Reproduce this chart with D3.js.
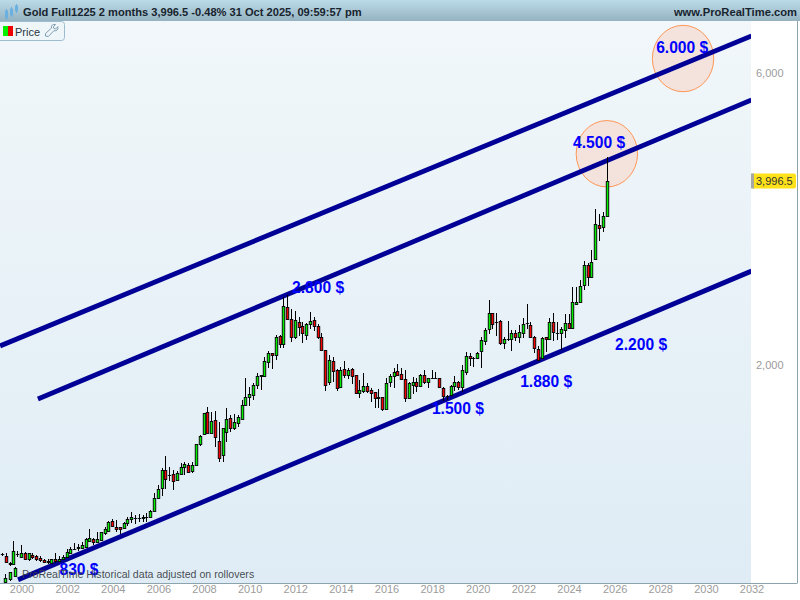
<!DOCTYPE html>
<html><head><meta charset="utf-8">
<script src="https://cdn.jsdelivr.net/npm/d3@7"></script>
<style>html,body{margin:0;padding:0;background:#fff;overflow:hidden}svg{display:block;font-family:"Liberation Sans",Arial,sans-serif}</style>
</head><body><div id="chart"></div>
<script>
// Two-month candles, first period March 1999, prices
const firstPeriod = 1999 + 2 / 12;
const periodLength = 2 / 12;
const opens = [980,974,950,945,981,971,984,962,978,974,968,960,954,950,962,957,962,972,987,1001,1005,1003,1009,1032,1038,1028,1035,1062,1072,1110,1088,1085,1084,1102,1120,1125,1124,1123,1129,1130,1156,1214,1257,1345,1321,1325,1298,1326,1361,1371,1342,1372,1484,1541,1674,1550,1624,1500,1424,1556,1636,1576,1610,1630,1718,1771,1788,1853,1921,1919,2025,2090,2072,2230,2162,2484,2374,2222,2350,2312,2242,2335,2368,2312,2220,2114,1873,2030,1963,1843,1968,1928,1968,1924,1802,1816,1848,1818,1804,1768,1771,1692,1874,1921,1952,1931,1895,1768,1855,1878,1848,1924,1878,1906,1906,1902,1832,1779,1786,1850,1874,1839,1944,2066,2051,2051,2110,2186,2287,2429,2346,2360,2173,2204,2208,2252,2220,2256,2340,2321,2224,2122,2052,2218,2202,2346,2258,2255,2281,2340,2300,2516,2534,2698,2909,2786,2975,3381,3366,3509];
const highs = [986,985,952,1031,993,1016,990,986,984,978,974,965,962,965,984,974,978,1000,1009,1022,1020,1028,1042,1079,1042,1068,1068,1086,1112,1120,1116,1088,1106,1127,1149,1137,1141,1137,1145,1159,1236,1274,1357,1420,1362,1347,1342,1383,1389,1383,1389,1487,1537,1670,1707,1678,1682,1614,1578,1701,1657,1662,1657,1751,1904,1841,1867,1941,1926,2059,2111,2095,2239,2239,2585,2602,2466,2450,2391,2354,2344,2441,2398,2333,2258,2116,2077,2059,1968,1985,2028,1978,1975,1926,1890,1943,1867,1831,1808,1827,1775,1902,1931,1975,2005,1975,1963,1878,1909,1902,1931,1963,1907,1963,1950,1907,1839,1786,1855,1919,1883,1998,2102,2095,2064,2100,2219,2296,2553,2434,2429,2365,2222,2359,2281,2281,2324,2385,2515,2354,2230,2144,2218,2224,2385,2434,2354,2310,2422,2422,2678,2683,2753,2957,2937,3081,3595,3523,3557,4371];
const lows = [973,948,938,942,971,967,960,957,965,957,954,948,946,948,948,951,960,968,984,997,994,1000,1003,1031,1016,1025,1032,1055,1068,1086,1068,1059,1078,1091,1102,1099,1109,1109,1106,1127,1150,1207,1222,1255,1290,1250,1297,1322,1322,1331,1332,1370,1471,1537,1546,1546,1470,1387,1390,1494,1552,1566,1584,1630,1713,1713,1753,1827,1820,1909,1978,1970,2038,2128,2134,2370,2180,2203,2226,2174,2197,2290,2272,2203,2108,1816,1855,1878,1816,1836,1902,1897,1862,1793,1764,1802,1802,1738,1702,1698,1684,1692,1839,1832,1919,1890,1742,1764,1793,1809,1843,1862,1832,1897,1895,1832,1746,1753,1779,1816,1820,1809,1926,1992,1983,2043,1975,2156,2247,2292,2226,2156,2124,2188,2111,2191,2172,2212,2287,2210,2095,2038,2044,2103,2197,2191,2197,2116,2215,2287,2287,2506,2527,2651,2694,2775,2968,3192,3299,3500];
const closes = [982,951,944,992,982,985,965,985,971,962,960,954,955,962,955,965,969,988,1000,1002,1006,1016,1039,1042,1028,1038,1068,1079,1106,1091,1078,1078,1102,1120,1127,1126,1125,1130,1130,1156,1212,1253,1347,1304,1323,1294,1330,1361,1378,1338,1373,1486,1531,1667,1550,1618,1524,1409,1576,1631,1578,1612,1642,1718,1771,1791,1855,1919,1922,2030,2095,2072,2222,2162,2494,2378,2222,2365,2309,2253,2335,2357,2315,2222,2114,1857,2035,1957,1836,1961,1928,1963,1919,1802,1818,1848,1816,1800,1764,1769,1692,1867,1919,1945,1928,1894,1768,1867,1878,1848,1924,1874,1902,1907,1907,1839,1779,1780,1846,1874,1839,1961,2066,2051,2052,2092,2194,2284,2434,2335,2347,2173,2204,2205,2252,2220,2260,2330,2341,2224,2130,2038,2210,2202,2346,2260,2259,2287,2340,2300,2530,2538,2688,2909,2786,2950,3394,3351,3509,3996.5];

// The three stray candles under the start of the series
const strayTimes = [1999.29, 1999.51, 1999.73];
const strayOpens = [884, 893, 905];
const strayHighs = [911, 915, 935];
const strayLows = [879, 888, 902];
const strayCloses = [898, 918, 932];

// Channel lines: [year, price] end points
const lowerChannel = [[1999.85, 891], [2032, 2847]];
const middleChannel = [[2000.72, 1759], [2032, 5420]];
const upperChannel = [[1999.06, 2148], [2032, 6896]];

// Target circles
const targetYears = [2025.66, 2029];
const targetPrices = [4427, 6336];

// Annotations
const noteTexts = ["6.000 $", "4.500 $", "2.800 $", "2.200 $", "1.880 $", "1.500 $", "830 $"];
const noteYears = [2028.96, 2025.32, 2013, 2027.16, 2023, 2019.13, 2002.52];
const notePrices = [6616, 4628, 2682, 2164, 1883, 1701, 928];

// Axes
const yearTicks = [2000,2002,2004,2006,2008,2010,2012,2014,2016,2018,2020,2022,2024,2026,2028,2030,2032];
const priceTicks = [2000, 6000];
const lastPrice = 3996.5;
const titleText = "Gold Full1225 2 months 3,996.5 -0.48% 31 Oct 2025, 09:59:57 pm";

const W = 800, H = 600, plotRight = 751, plotTop = 21, plotBottom = 583;
const x = d3.scaleLinear().domain([2000, 2032]).range([21.5, 751.5]);
const y = d3.scaleLog().domain([880, 7297]).range([plotBottom, plotTop]);

const svg = d3.select("#chart").append("svg").attr("width", W).attr("height", H);
const defs = svg.append("defs");
const bg = defs.append("linearGradient").attr("id", "bg").attr("x1", 0).attr("y1", 0).attr("x2", 0).attr("y2", 1);
bg.append("stop").attr("offset", 0).attr("stop-color", "#f1f7fa");
bg.append("stop").attr("offset", 1).attr("stop-color", "#dfecf5");
const head = defs.append("linearGradient").attr("id", "head").attr("x1", 0).attr("y1", 0).attr("x2", 0).attr("y2", 1);
head.append("stop").attr("offset", 0).attr("stop-color", "#bcdbe8");
head.append("stop").attr("offset", 1).attr("stop-color", "#95b2c1");
defs.append("clipPath").attr("id", "plot").append("rect").attr("x", 0).attr("y", plotTop).attr("width", plotRight).attr("height", plotBottom - plotTop);

svg.append("rect").attr("width", W).attr("height", H).attr("fill", "#fff");
svg.append("rect").attr("x", 0).attr("y", plotTop).attr("width", plotRight).attr("height", plotBottom - plotTop).attr("fill", "url(#bg)");

const plot = svg.append("g").attr("clip-path", "url(#plot)");

// circles
plot.selectAll("ellipse").data(targetYears).join("ellipse")
  .attr("cx", d => x(d)).attr("cy", (d, i) => y(targetPrices[i]))
  .attr("rx", 30.7).attr("ry", 33.2)
  .attr("fill", "#f3e3dc").attr("stroke", "#ff9656").attr("stroke-width", 1);

// channel lines
const lineGen = d3.line().x(d => x(d[0])).y(d => y(d[1]));
plot.selectAll("path.channel").data([lowerChannel, middleChannel, upperChannel]).join("path")
  .attr("class", "channel").attr("d", lineGen).attr("fill", "none")
  .attr("stroke", "#000096").attr("stroke-width", 4.8);

// candles
function drawCandles(rows) {
  const g = plot.append("g");
  rows.forEach(r => {
    const cx = Math.round(x(r.t) - 0.5);
    const up = r.c >= r.o;
    const top = Math.round(y(Math.max(r.o, r.c)));
    const bot = Math.round(y(Math.min(r.o, r.c)));
    g.append("line").attr("x1", cx + .5).attr("x2", cx + .5)
      .attr("y1", Math.round(y(r.h))).attr("y2", Math.round(y(r.l)))
      .attr("stroke", "#000").attr("stroke-width", 1);
    g.append("rect").attr("x", cx + .5 - 1.25).attr("width", 2.5)
      .attr("y", top + .5).attr("height", Math.max(bot - top, 0.01))
      .attr("fill", up ? "#00f000" : "#f80000").attr("stroke", "#000").attr("stroke-width", 0.9);
  });
}
drawCandles(opens.map((o, i) => ({ t: firstPeriod + i * periodLength, o, h: highs[i], l: lows[i], c: closes[i] })));
drawCandles(strayTimes.map((t, i) => ({ t, o: strayOpens[i], h: strayHighs[i], l: strayLows[i], c: strayCloses[i] })));

// annotations
svg.append("g").selectAll("text").data(noteTexts).join("text")
  .attr("x", (d, i) => x(noteYears[i])).attr("y", (d, i) => y(notePrices[i]))
  .attr("dy", "0.36em").attr("text-anchor", "middle")
  .attr("font-size", 15.6).attr("font-weight", "bold").attr("fill", "#0000ff").text(d => d);

// footer note
svg.append("text").attr("x", 22).attr("y", 578).attr("font-size", 10.6).attr("fill", "#3a3f45").attr("fill-opacity", .95)
  .text("ProRealTime Historical data adjusted on rollovers");

// frame
svg.append("line").attr("x1", 0).attr("x2", 797.5).attr("y1", plotBottom + .5).attr("y2", plotBottom + .5).attr("stroke", "#8ba3ad");
svg.append("line").attr("x1", 797.5).attr("x2", 797.5).attr("y1", plotTop).attr("y2", plotBottom).attr("stroke", "#8ba3ad");

// axes
const xAxis = d3.axisBottom(x).tickValues(yearTicks).tickFormat(d3.format("d")).tickSize(0).tickPadding(2);
const gx = svg.append("g").attr("transform", `translate(0,${plotBottom})`).call(xAxis);
gx.select(".domain").remove();
gx.selectAll("text").attr("fill", "#9c9c9c").attr("font-size", 11).attr("font-family", "'Liberation Sans',Arial,sans-serif");

const yAxis = d3.axisRight(y).tickValues(priceTicks).tickFormat(d3.format(",")).tickSize(0).tickPadding(5);
const gy = svg.append("g").attr("transform", `translate(${plotRight},0)`).call(yAxis);
gy.select(".domain").remove();
gy.selectAll("text").attr("fill", "#9c9c9c").attr("font-size", 11).attr("font-family", "'Liberation Sans',Arial,sans-serif");

// last price tag
const tagY = y(lastPrice);
svg.append("rect").attr("x", 751).attr("y", tagY - 7.5).attr("width", 45).attr("height", 15).attr("rx", 2).attr("fill", "#ffe21a");
svg.append("rect").attr("x", 751).attr("y", tagY - 7.5).attr("width", 3).attr("height", 15).attr("fill", "#a8a8a0");
svg.append("text").attr("x", 756).attr("y", tagY).attr("dy", "0.36em").attr("font-size", 11).attr("fill", "#333").text(d3.format(",.1f")(lastPrice));

// header
svg.append("rect").attr("width", W).attr("height", plotTop).attr("fill", "url(#head)");
svg.append("text").attr("x", 23).attr("y", 16).attr("font-size", 11.1).attr("font-weight", "bold").attr("fill", "#18242e").text(titleText);
svg.append("text").attr("x", 797).attr("y", 16).attr("text-anchor", "end").attr("font-size", 11.2).attr("font-weight", "bold").attr("fill", "#18242e").text("www.ProRealTime.com");
const icon = svg.append("g").attr("stroke", "#6cb0e0").attr("fill", "#6cb0e0");
[[6, 10, 19], [11, 8, 16], [16, 5, 12]].forEach(([cx, a, b]) => {
  icon.append("line").attr("x1", cx + .5).attr("x2", cx + .5).attr("y1", a - 1).attr("y2", b + 1);
  icon.append("rect").attr("x", cx - .5).attr("y", a + 1).attr("width", 2).attr("height", b - a - 2);
});

// legend chip
svg.append("rect").attr("x", -3).attr("y", 21.5).attr("width", 67.5).attr("height", 19).attr("rx", 3).attr("fill", "#eff6fa").attr("stroke", "#9dbccd");
svg.append("rect").attr("x", 3).attr("y", 26).attr("width", 5).attr("height", 10).attr("fill", "#00f000");
svg.append("rect").attr("x", 8).attr("y", 26).attr("width", 5).attr("height", 10).attr("fill", "#f00000");
svg.append("text").attr("x", 15).attr("y", 35.5).attr("font-size", 11).attr("fill", "#2a3640").text("Price");
svg.append("path").attr("d", "M45.5 36 l0-2.5 l6-5.5 c-.6-2.6 1.2-4 4-3.5 l-2.2 2.4 l.6 1.6 l1.8.4 l2.2-2.2 c.6 2.8-1.4 4.6-4 4 l-5.6 5.8 z")
  .attr("fill", "none").attr("stroke", "#7d9db0").attr("stroke-width", 1);
</script>
</body></html>
